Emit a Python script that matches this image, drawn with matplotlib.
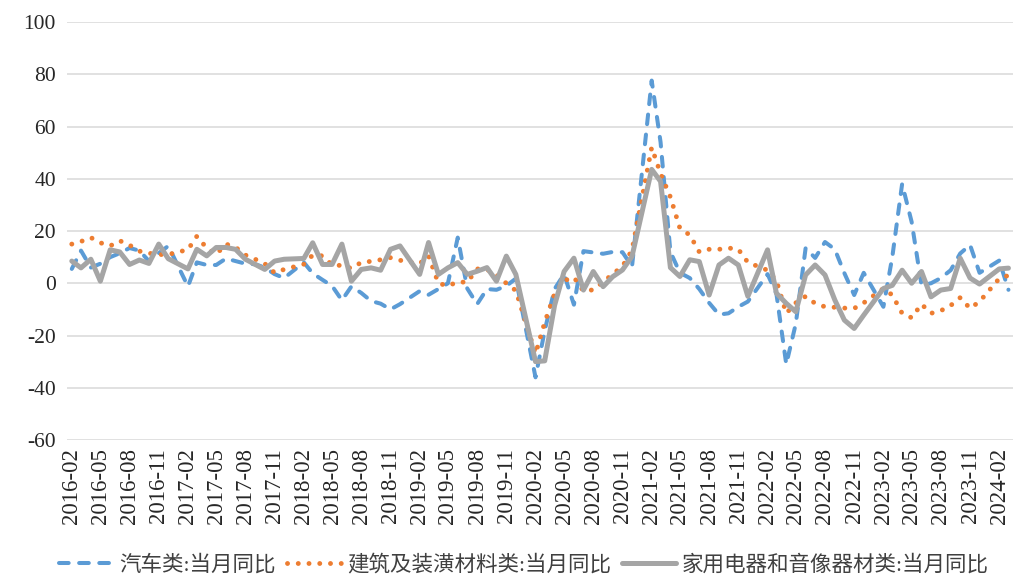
import matplotlib
matplotlib.use("Agg")
import matplotlib.pyplot as plt
import matplotlib.dates as mdates
import pandas as pd

plt.rcParams["axes.unicode_minus"] = False

# monthly YoY, January not published (Jan-Feb combined), 2016-02 .. 2024-03
months = [d for d in pd.date_range("2016-02-01", "2024-03-01", freq="MS") if d.month != 1]

autos = [5.5, 12.5, 6.0, 7.5, 10.0, 11.5, 13.5, 12.5, 8.5, 11.5, 14.3,
         -1.2, 8.0, 7.0, 7.0, 9.5, 8.5, 7.5, 7.3, 6.0, 3.5, 2.0,
         8.0, 3.8, 1.3, -1.0, -6.5, -1.2, -3.7, -6.8, -7.8, -10.0, -8.0,
         -3.0, -4.4, -2.2, 0.0, 17.5, -2.0, -8.0, -2.2, -2.5, -1.0, 1.8,
         -36.0, -18.1, -2.2, 3.5, -8.2, 12.3, 11.8, 11.3, 12.0, 11.9, 6.4,
         77.6, 54.0, 12.0, 4.0, 2.0, -2.2, -7.5, -12.0, -11.5, -9.0, -7.0,
         3.5, -4.0, -31.0, -15.5, 13.5, 9.7, 15.8, 13.0, 3.9, -4.5, 4.0,
         -9.0, 10.0, 38.0, 23.5, -0.6, 0.0, 2.0, 5.0, 11.4, 14.7, 4.0,
         8.7, -2.5]

building = [15.0, 16.0, 17.5, 15.5, 14.3, 16.3, 14.6, 12.3, 11.5, 11.0, 11.0,
            12.9, 18.0, 13.5, 11.1, 15.0, 13.8, 10.8, 9.2, 7.5, 4.0, 5.3,
            7.3, 10.8, 10.5, 7.0, 6.8, 5.7, 8.0, 8.4, 9.0, 9.8, 8.8,
            7.5, 10.5, 0.0, -1.0, 0.5, 0.4, 5.5, 5.3, 3.2, 0.0, -2.8,
            -27.0, -15.0, -4.0, 1.0, 2.3, -3.0, -2.5, 0.5, 3.5, 6.5, 12.7,
            52.0, 42.0, 33.0, 21.0, 18.5, 12.0, 13.0, 13.0, 13.5, 13.0, 8.0,
            5.0, 1.0, -11.5, -7.5, -5.0, -7.7, -9.0, -9.2, -9.5, -9.6, -7.5,
            -2.0, -4.5, -11.5, -13.2, -8.0, -11.5, -10.5, -8.5, -5.5, -9.6, -7.0,
            1.8, 3.0]

appliances = [8.5, 5.9, 9.2, 0.8, 12.8, 12.0, 7.2, 8.9, 7.6, 15.0, 9.4,
              5.5, 13.0, 10.5, 13.7, 13.7, 13.0, 9.2, 7.2, 5.3, 8.5, 9.2,
              9.5, 15.5, 7.2, 7.2, 15.0, 0.8, 5.3, 5.9, 5.0, 13.0, 14.3,
              3.4, 15.6, 3.4, 5.9, 7.9, 3.4, 4.6, 6.0, 0.8, 10.4, 3.4,
              -30.0, -29.7, -8.5, 4.5, 9.6, -2.6, 4.5, -1.3, 2.5, 5.1, 10.3,
              43.6, 39.0, 6.0, 2.6, 9.0, 8.3, -4.5, 7.0, 9.6, 7.0, -5.0,
              12.8, -3.8, -7.7, -10.9, 3.2, 7.0, 3.2, -6.4, -14.1, -17.3, -12.2,
              -2.0, -0.8, 5.0, 0.0, 4.5, -5.2, -2.6, -2.0, 9.6, 2.0, -0.3,
              5.5, 5.8]

names = ["汽车类:当月同比", "建筑及装潢材料类:当月同比", "家用电器和音像器材类:当月同比"]
yticks = list(range(-60, 101, 20))
xticks = pd.date_range("2016-02-01", "2024-02-01", freq="3MS")

BLUE = "#5B9BD5"; ORANGE = "#ED7D31"; GREY = "#A5A5A5"; GRID = "#D9D9D9"; TXT = "#262626"
NUM = ["Liberation Serif", "DejaVu Serif"]
CJK = ["Liberation Serif", "Noto Sans CJK SC"]

fig = plt.figure(figsize=(10.36, 5.81), dpi=100)
ax = fig.add_axes([0.0647, 0.2427, 0.9133, 0.7193])

ax.plot(months, autos, color=BLUE, lw=2.9, linestyle=(0, (2.4, 2.6)),
        dash_capstyle="round", label=names[0])
ax.plot(months, building, color=ORANGE, lw=3.5, linestyle=(0, (0.01, 2.2)),
        dash_capstyle="round", label=names[1])
ax.plot(months, appliances, color=GREY, lw=3.6, solid_joinstyle="round",
        solid_capstyle="round", label=names[2])

ax.set_ylim(-60, 100)
ax.set_yticks(yticks)
ax.set_xlim(months[0] - pd.Timedelta(days=15), months[-1] + pd.Timedelta(days=15))
ax.set_xticks(xticks)
ax.xaxis.set_major_formatter(mdates.DateFormatter("%Y-%m"))
ax.grid(axis="y", color=GRID, lw=1.1)
ax.set_axisbelow(True)
for s in ax.spines.values():
    s.set_visible(False)
ax.tick_params(axis="both", length=0, colors=TXT)
ax.tick_params(axis="y", pad=8)
ax.tick_params(axis="x", pad=6)
for t in ax.get_yticklabels():
    t.set_family(NUM); t.set_fontsize(15.5)
for t in ax.get_xticklabels():
    t.set_family(NUM); t.set_fontsize(16.5); t.set_rotation(90)

leg = fig.legend(loc="center", bbox_to_anchor=(0.506, 0.028), ncol=3, frameon=False,
                 handlelength=2.5, handletextpad=0.3, columnspacing=0.5,
                 prop={"family": CJK, "size": 15.5})
for t in leg.get_texts():
    t.set_color("#404040")

fig.savefig("out.png", dpi=100)
